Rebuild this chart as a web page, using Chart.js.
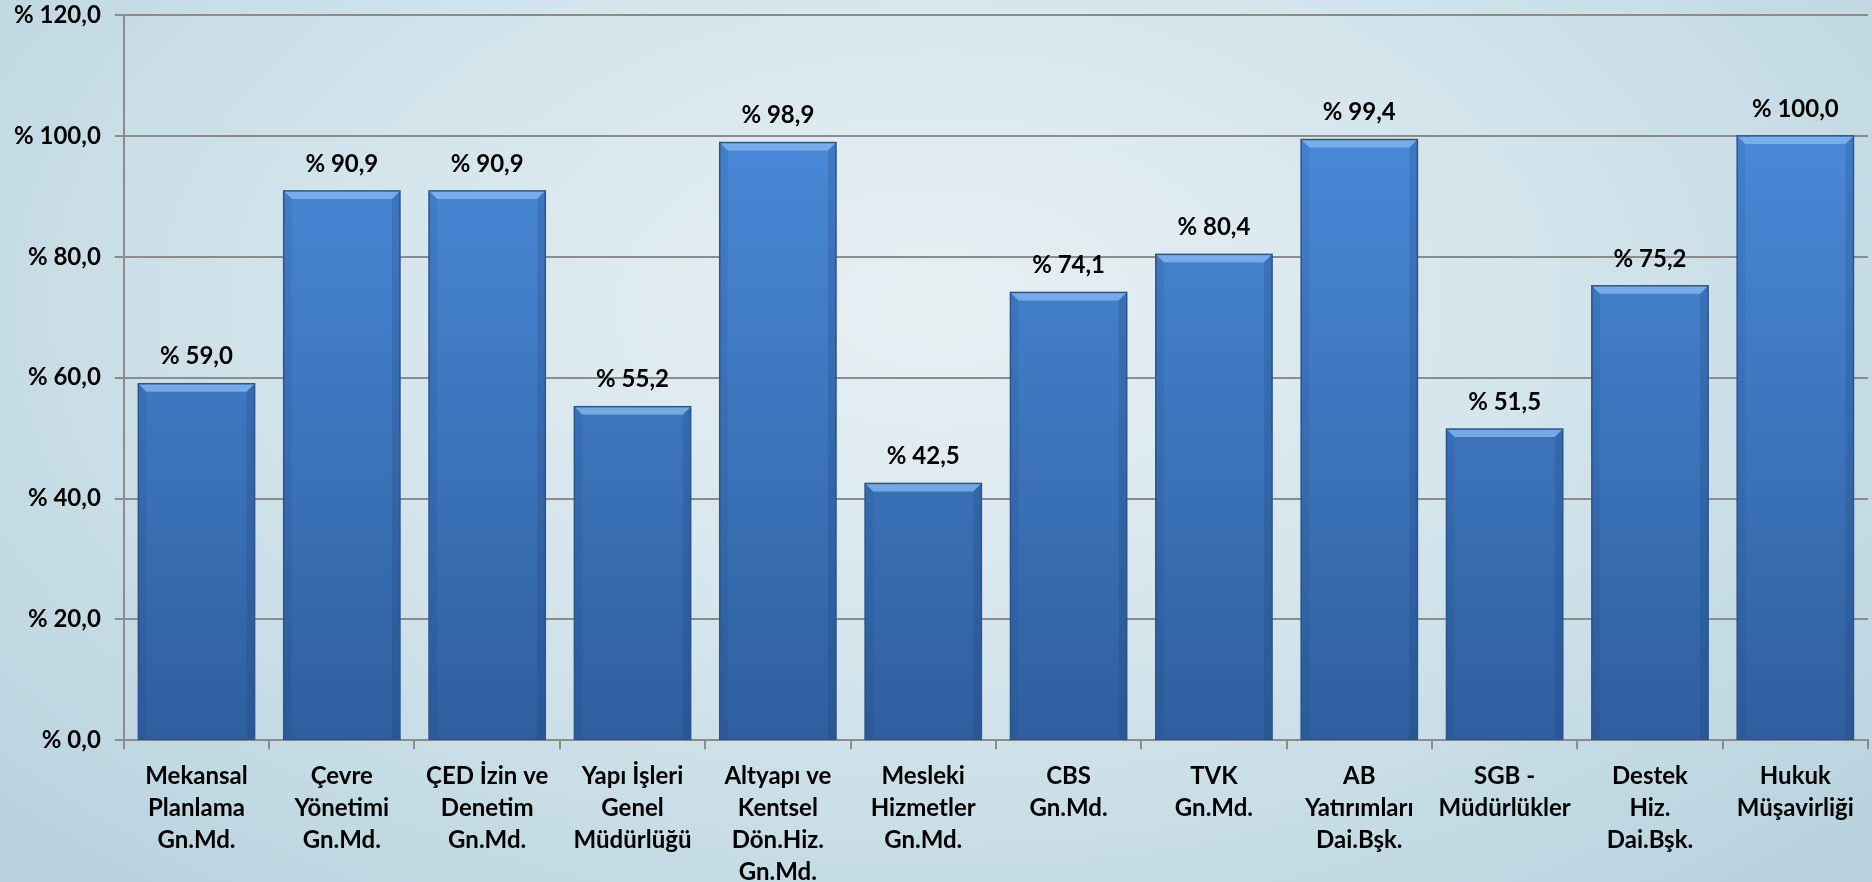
<!DOCTYPE html>
<html>
<head>
<meta charset="utf-8">
<script src="https://cdn.jsdelivr.net/npm/chart.js@4/dist/chart.umd.min.js"></script>
<style>
  html, body { margin: 0; padding: 0; }
  body {
    width: 1872px; height: 882px; overflow: hidden;
    background: radial-gradient(ellipse 70% 90% at 50% 35%, #e8f0f3 0%, #d4e5ec 45%, #b7d2de 100%);
  }
  #wrap { width: 1872px; height: 882px; position: relative; }
</style>
</head>
<body>
<div id="wrap"><canvas id="chart"></canvas></div>
<script>
// birimler
var categories = [
  ['Mekansal', 'Planlama', 'Gn.Md.'],
  ['Çevre', 'Yönetimi', 'Gn.Md.'],
  ['ÇED İzin ve', 'Denetim', 'Gn.Md.'],
  ['Yapı İşleri', 'Genel', 'Müdürlüğü'],
  ['Altyapı ve', 'Kentsel', 'Dön.Hiz.', 'Gn.Md.'],
  ['Mesleki', 'Hizmetler', 'Gn.Md.'],
  ['CBS', 'Gn.Md.'],
  ['TVK', 'Gn.Md.'],
  ['AB', 'Yatırımları', 'Dai.Bşk.'],
  ['SGB -', 'Müdürlükler'],
  ['Destek', 'Hiz.', 'Dai.Bşk.'],
  ['Hukuk', 'Müşavirliği']
];
var values = [59.0, 90.9, 90.9, 55.2, 98.9, 42.5, 74.1, 80.4, 99.4, 51.5, 75.2, 100.0];
var yTicks = [0, 20, 40, 60, 80, 100, 120];

var FONT = 'Lato, "Open Sans", sans-serif';

function pct(v) {
  return '% ' + Number(v).toFixed(1).replace('.', ',');
}

// bevel + labels
var barDeco = {
  id: 'barDeco',
  afterDatasetsDraw: function(chart) {
    var ctx = chart.ctx;
    var meta = chart.getDatasetMeta(0);
    meta.data.forEach(function(bar, i) {
      var p = bar.getProps(['x', 'y', 'base', 'width'], true);
      var l = p.x - p.width / 2, r = p.x + p.width / 2, t = p.y, b = p.base;
      var bv = 8;
      ctx.save();
      // top bevel
      ctx.beginPath();
      ctx.moveTo(l, t); ctx.lineTo(r, t); ctx.lineTo(r - bv, t + bv); ctx.lineTo(l + bv, t + bv);
      ctx.closePath();
      ctx.fillStyle = 'rgba(130,182,240,0.8)';
      ctx.fill();
      // right side
      ctx.beginPath();
      ctx.moveTo(r, t); ctx.lineTo(r, b); ctx.lineTo(r - bv, b); ctx.lineTo(r - bv, t + bv);
      ctx.closePath();
      ctx.fillStyle = 'rgba(20,50,100,0.18)';
      ctx.fill();
      // left side
      ctx.beginPath();
      ctx.moveTo(l, t); ctx.lineTo(l + bv, t + bv); ctx.lineTo(l + bv, b); ctx.lineTo(l, b);
      ctx.closePath();
      ctx.fillStyle = 'rgba(20,50,100,0.10)';
      ctx.fill();
      // outline
      ctx.strokeStyle = '#2a5590';
      ctx.lineWidth = 1.5;
      ctx.strokeRect(l, t, r - l, b - t);
      // value label
      ctx.fillStyle = '#000';
      ctx.font = 'bold 24px ' + FONT;
      ctx.textAlign = 'center';
      ctx.textBaseline = 'middle';
      ctx.fillText(pct(values[i]), p.x, t - 27);
      ctx.restore();
    });
  }
};

var ctx = document.getElementById('chart').getContext('2d');
var g = ctx.createLinearGradient(0, 120, 0, 738);
g.addColorStop(0, '#4a8ad9');
g.addColorStop(1, '#2f5f9f');

var myChart = new Chart(ctx, {
  type: 'bar',
  data: {
    labels: categories,
    datasets: [{
      data: values,
      backgroundColor: g,
      borderWidth: 0,
      barPercentage: 0.8,
      categoryPercentage: 1.0
    }]
  },
  options: {
    responsive: true,
    maintainAspectRatio: false,
    animation: false,
    layout: { padding: { top: 15, right: 4, left: 0, bottom: -17 } },
    plugins: {
      legend: { display: false },
      tooltip: { enabled: false }
    },
    scales: {
      x: {
        offset: true,
        grid: {
          offset: true,
          drawOnChartArea: false,
          drawTicks: true,
          tickLength: 9,
          color: '#8c8c8c',
          lineWidth: 2
        },
        border: { color: '#8c8c8c', width: 2 },
        ticks: {
          color: '#000',
          padding: 11,
          maxRotation: 0,
          autoSkip: false,
          font: { family: FONT, size: 24, weight: 'bold', lineHeight: 1.33 }
        }
      },
      y: {
        min: 0,
        max: 120,
        afterBuildTicks: function(scale) {
          scale.ticks = yTicks.map(function(v) { return { value: v }; });
        },
        afterFit: function(scale) {
          scale.paddingTop = 0;
        },
        grid: {
          color: '#8c8c8c',
          lineWidth: 2,
          tickLength: 9
        },
        border: { color: '#8c8c8c', width: 2 },
        ticks: {
          color: '#000',
          padding: 14,
          font: { family: FONT, size: 24, weight: 'bold', lineHeight: 1 },
          callback: function(v) { return pct(v); }
        }
      }
    }
  },
  plugins: [barDeco]
});
</script>
</body>
</html>
